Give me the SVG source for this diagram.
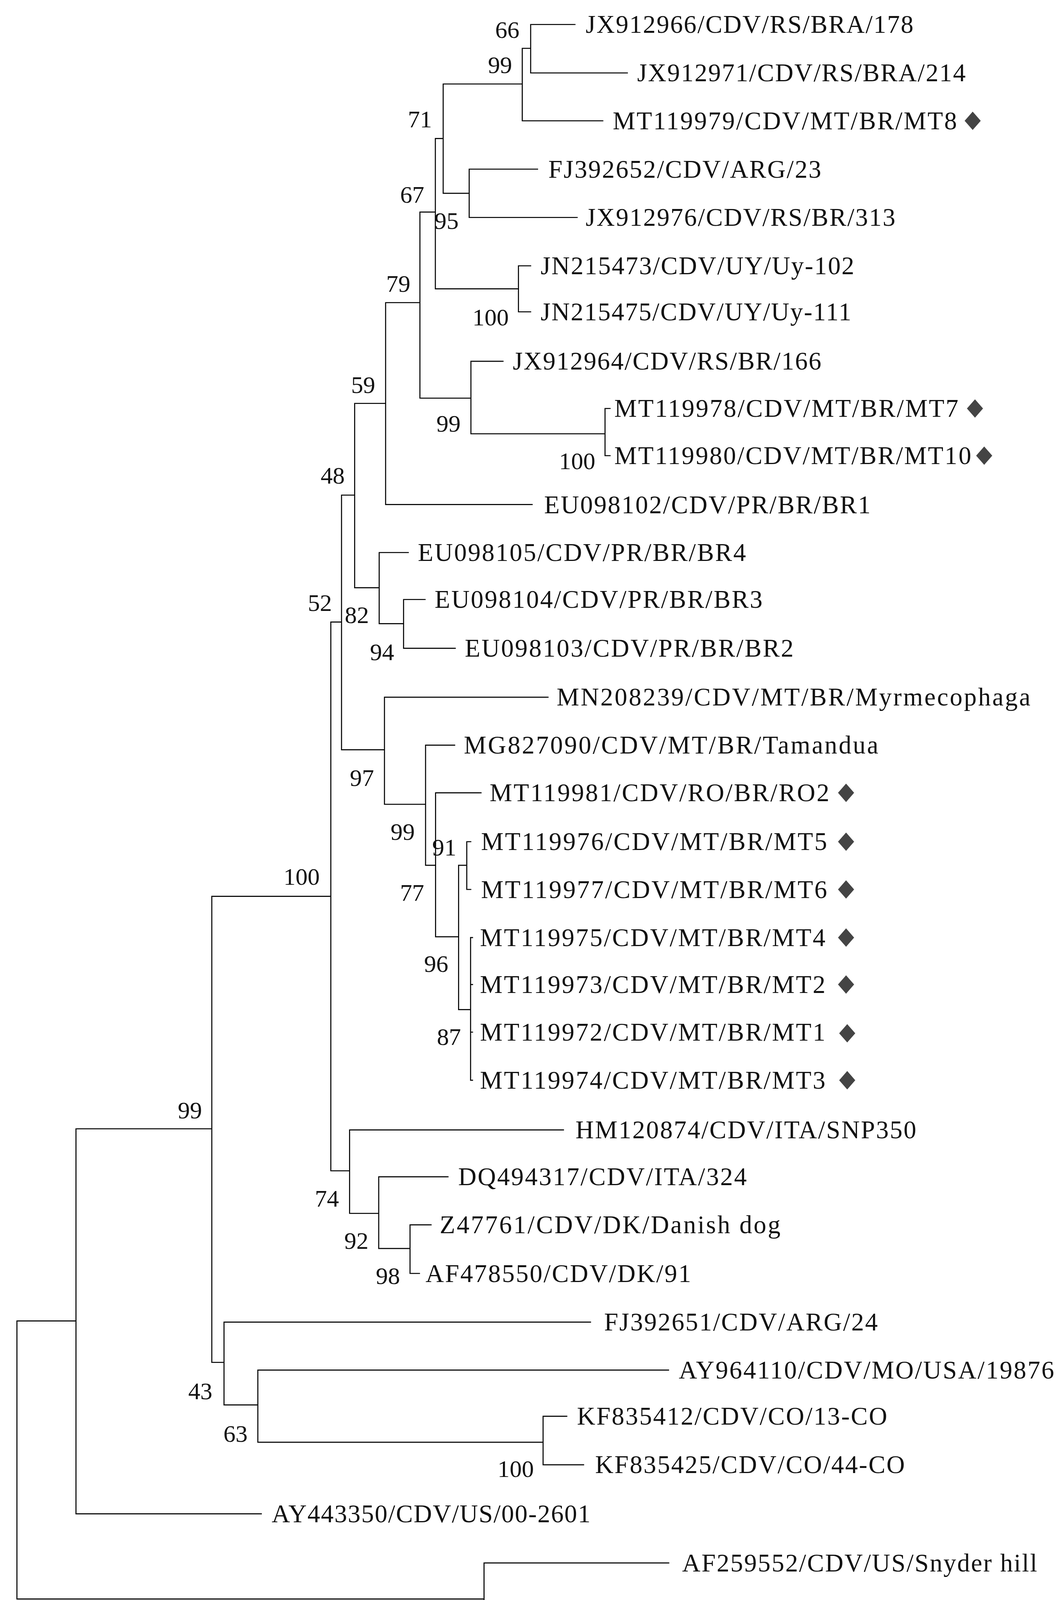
<svg xmlns="http://www.w3.org/2000/svg" width="2710" height="4600" viewBox="0 0 2710 4600">
<style>
.e{fill:none;stroke:#000;stroke-width:0.9;stroke-linecap:square}
.l{font-family:"Liberation Serif",serif;font-size:22px;fill:#111}
.b{font-family:"Liberation Serif",serif;font-size:21px;fill:#111;text-anchor:middle}
.d{fill:#444}
.s{font-family:"Liberation Sans",sans-serif;font-size:17px;fill:#111;text-anchor:middle}
</style>
<defs><path id="dm" d="M0,-8 L7,0 L0,8 L-7,0 Z" class="d"/></defs>
<rect width="2710" height="4600" fill="#fff"/>
<g transform="scale(2.9457)">
<g id="connectors">
<path class="e" d="M461,21.3V63.4M461,21.3H499.5M461,63.4H545M453.7,42V105M453.7,42H461M453.7,105H523.7M407.6,147V189M407.6,147H467M407.6,189H501.4M385,73V168M385,73H453.7M385,168H407.6M450.4,231V271M450.4,231H461M450.4,271H461M378.2,120.4V251M378.2,120.4H385M378.2,251H450.4M525.6,355V396M525.6,355H530M525.6,396H530M409.1,314V377M409.1,314H437M409.1,377H525.6M364.8,184.3V346M364.8,184.3H378.2M364.8,346H409.1M335,263V438.5M335,263H364.8M335,438.5H462.3M308.1,350.6V510.8M308.1,350.6H335M308.1,510.8H329.4M329.4,480.2V542M329.4,480.2H354.7M329.4,542H350.6M350.6,521V563.4M350.6,521H369.3M350.6,563.4H395.5M296.7,430.3V651.6M296.7,430.3H308.1M296.7,651.6H334M334,605.9V699M334,605.9H476.1M334,699H369.7M369.7,647.6V752M369.7,647.6H395M369.7,752H378.4M378.4,689V814.1M378.4,689H417.9M378.4,814.1H398.4M398.4,752V877.4M398.4,752H405.5M398.4,877.4H408.8M405.5,731.5V773M405.5,731.5H409M405.5,773H409M408.8,814.8V938.8M408.8,814.8H410.5M408.8,855.6H410.5M408.8,897H410.5M408.8,938.8H410.5M287.4,540.6V1017.5M287.4,540.6H296.7M287.4,1017.5H303.7M303.7,982V1054.5M303.7,982H489.5M303.7,1054.5H329M329,1022.7V1085M329,1022.7H389.2M329,1085H356.2M356.2,1064.5V1106.7M356.2,1064.5H374.5M356.2,1106.7H364.4M184,779V1184M184,779H287.4M184,1184H194.6M194.6,1149V1221M194.6,1149H513M194.6,1221H224M224,1190.7V1253.4M224,1190.7H580.8M224,1253.4H471.8M471.8,1230.8V1273M471.8,1230.8H492.4M471.8,1273H507M66,981V1315.6M66,981H184M66,1315.6H227M14.7,1148V1389.6M14.7,1148H66M14.7,1389.6H420.5M420.5,1358.3V1421M420.5,1358.3H581M420.5,1421H480.6M480.6,1399.6V1441.8M480.6,1399.6H524.8M480.6,1441.8H563"/>
<path class="e" d="M42.5,1511.5H141.5M42.5,1505V1518M141.5,1505V1518"/>
</g>
<g id="leaves">
<text class="l" x="508.8" y="28.6" textLength="284.7" lengthAdjust="spacing">JX912966/CDV/RS/BRA/178</text>
<text class="l" x="553.5" y="70.7" textLength="285.4" lengthAdjust="spacing">JX912971/CDV/RS/BRA/214</text>
<text class="l" x="532.3" y="112.3" textLength="299" lengthAdjust="spacing">MT119979/CDV/MT/BR/MT8</text>
<text class="l" x="476.4" y="154.3" textLength="237" lengthAdjust="spacing">FJ392652/CDV/ARG/23</text>
<text class="l" x="508.8" y="196.3" textLength="269" lengthAdjust="spacing">JX912976/CDV/RS/BR/313</text>
<text class="l" x="469.7" y="238.3" textLength="272.4" lengthAdjust="spacing">JN215473/CDV/UY/Uy-102</text>
<text class="l" x="469.7" y="278.3" textLength="269.8" lengthAdjust="spacing">JN215475/CDV/UY/Uy-111</text>
<text class="l" x="445.5" y="321.3" textLength="268" lengthAdjust="spacing">JX912964/CDV/RS/BR/166</text>
<text class="l" x="533.7" y="362.3" textLength="298.8" lengthAdjust="spacing">MT119978/CDV/MT/BR/MT7</text>
<text class="l" x="533.7" y="403.3" textLength="310" lengthAdjust="spacing">MT119980/CDV/MT/BR/MT10</text>
<text class="l" x="472.7" y="446.1" textLength="283.6" lengthAdjust="spacing">EU098102/CDV/PR/BR/BR1</text>
<text class="l" x="363" y="487.5" textLength="285" lengthAdjust="spacing">EU098105/CDV/PR/BR/BR4</text>
<text class="l" x="377.6" y="528.3" textLength="284.8" lengthAdjust="spacing">EU098104/CDV/PR/BR/BR3</text>
<text class="l" x="403.8" y="570.7" textLength="285.6" lengthAdjust="spacing">EU098103/CDV/PR/BR/BR2</text>
<text class="l" x="483.6" y="613.2" textLength="411.5" lengthAdjust="spacing">MN208239/CDV/MT/BR/Myrmecophaga</text>
<text class="l" x="403" y="654.9" textLength="360" lengthAdjust="spacing">MG827090/CDV/MT/BR/Tamandua</text>
<text class="l" x="425.4" y="696.3" textLength="295" lengthAdjust="spacing">MT119981/CDV/RO/BR/RO2</text>
<text class="l" x="417.9" y="738.8" textLength="300.6" lengthAdjust="spacing">MT119976/CDV/MT/BR/MT5</text>
<text class="l" x="417.9" y="780.3" textLength="300.6" lengthAdjust="spacing">MT119977/CDV/MT/BR/MT6</text>
<text class="l" x="417" y="822.1" textLength="300" lengthAdjust="spacing">MT119975/CDV/MT/BR/MT4</text>
<text class="l" x="417" y="862.9" textLength="300" lengthAdjust="spacing">MT119973/CDV/MT/BR/MT2</text>
<text class="l" x="417" y="904.3" textLength="300" lengthAdjust="spacing">MT119972/CDV/MT/BR/MT1</text>
<text class="l" x="417" y="946.1" textLength="300" lengthAdjust="spacing">MT119974/CDV/MT/BR/MT3</text>
<text class="l" x="500" y="989.3" textLength="296" lengthAdjust="spacing">HM120874/CDV/ITA/SNP350</text>
<text class="l" x="398" y="1030" textLength="250.7" lengthAdjust="spacing">DQ494317/CDV/ITA/324</text>
<text class="l" x="382" y="1071.8" textLength="296" lengthAdjust="spacing">Z47761/CDV/DK/Danish dog</text>
<text class="l" x="369.7" y="1114" textLength="230.6" lengthAdjust="spacing">AF478550/CDV/DK/91</text>
<text class="l" x="524.8" y="1156.3" textLength="237.7" lengthAdjust="spacing">FJ392651/CDV/ARG/24</text>
<text class="l" x="589.7" y="1198" textLength="326" lengthAdjust="spacing">AY964110/CDV/MO/USA/19876</text>
<text class="l" x="501.2" y="1238.1" textLength="269.5" lengthAdjust="spacing">KF835412/CDV/CO/13-CO</text>
<text class="l" x="517" y="1280.3" textLength="269" lengthAdjust="spacing">KF835425/CDV/CO/44-CO</text>
<text class="l" x="236" y="1322.9" textLength="277" lengthAdjust="spacing">AY443350/CDV/US/00-2601</text>
<text class="l" x="592.6" y="1365.6" textLength="308.4" lengthAdjust="spacing">AF259552/CDV/US/Snyder hill</text>
<text class="l" x="535.4" y="1406.9" textLength="345" lengthAdjust="spacing">AF378705/CDV/SA/Onderstepoort</text>
<text class="l" x="570.8" y="1449.1" textLength="212.3" lengthAdjust="spacing">Z35493/CDV/Convac</text>
</g>
<g id="markers">
<use href="#dm" x="845" y="105"/>
<use href="#dm" x="847" y="355"/>
<use href="#dm" x="855" y="396"/>
<use href="#dm" x="735" y="689"/>
<use href="#dm" x="735" y="731.5"/>
<use href="#dm" x="735" y="773"/>
<use href="#dm" x="735" y="814.8"/>
<use href="#dm" x="735" y="855.6"/>
<use href="#dm" x="736" y="898"/>
<use href="#dm" x="736" y="938.8"/>
</g>
<g id="support">
<text class="b" x="440.7" y="32.9">66</text>
<text class="b" x="434.4" y="63.4">99</text>
<text class="b" x="364.8" y="110.6">71</text>
<text class="b" x="358.1" y="176.1">67</text>
<text class="b" x="387.9" y="199">95</text>
<text class="b" x="426.2" y="282.8">100</text>
<text class="b" x="346" y="253.7">79</text>
<text class="b" x="389.6" y="375">99</text>
<text class="b" x="501.4" y="407.7">100</text>
<text class="b" x="315.5" y="341.4">59</text>
<text class="b" x="289" y="420.4">48</text>
<text class="b" x="277.9" y="530.8">52</text>
<text class="b" x="310" y="541.6">82</text>
<text class="b" x="331.9" y="573.7">94</text>
<text class="b" x="314.4" y="683">97</text>
<text class="b" x="349.8" y="730">99</text>
<text class="b" x="386" y="743.4">91</text>
<text class="b" x="358" y="783">77</text>
<text class="b" x="378.9" y="844.6">96</text>
<text class="b" x="390" y="908">87</text>
<text class="b" x="262" y="769">100</text>
<text class="b" x="284" y="1048.5">74</text>
<text class="b" x="309.6" y="1085.4">92</text>
<text class="b" x="337" y="1116">98</text>
<text class="b" x="165" y="972">99</text>
<text class="b" x="174" y="1216">43</text>
<text class="b" x="204.6" y="1253">63</text>
<text class="b" x="448" y="1283.5">100</text>
<text class="b" x="396" y="1420.5">100</text>
<text class="b" x="461.7" y="1452">98</text>
</g>
<g id="scale">
<text class="s" x="91.4" y="1552">0.010</text>
</g>
</g>
</svg>
